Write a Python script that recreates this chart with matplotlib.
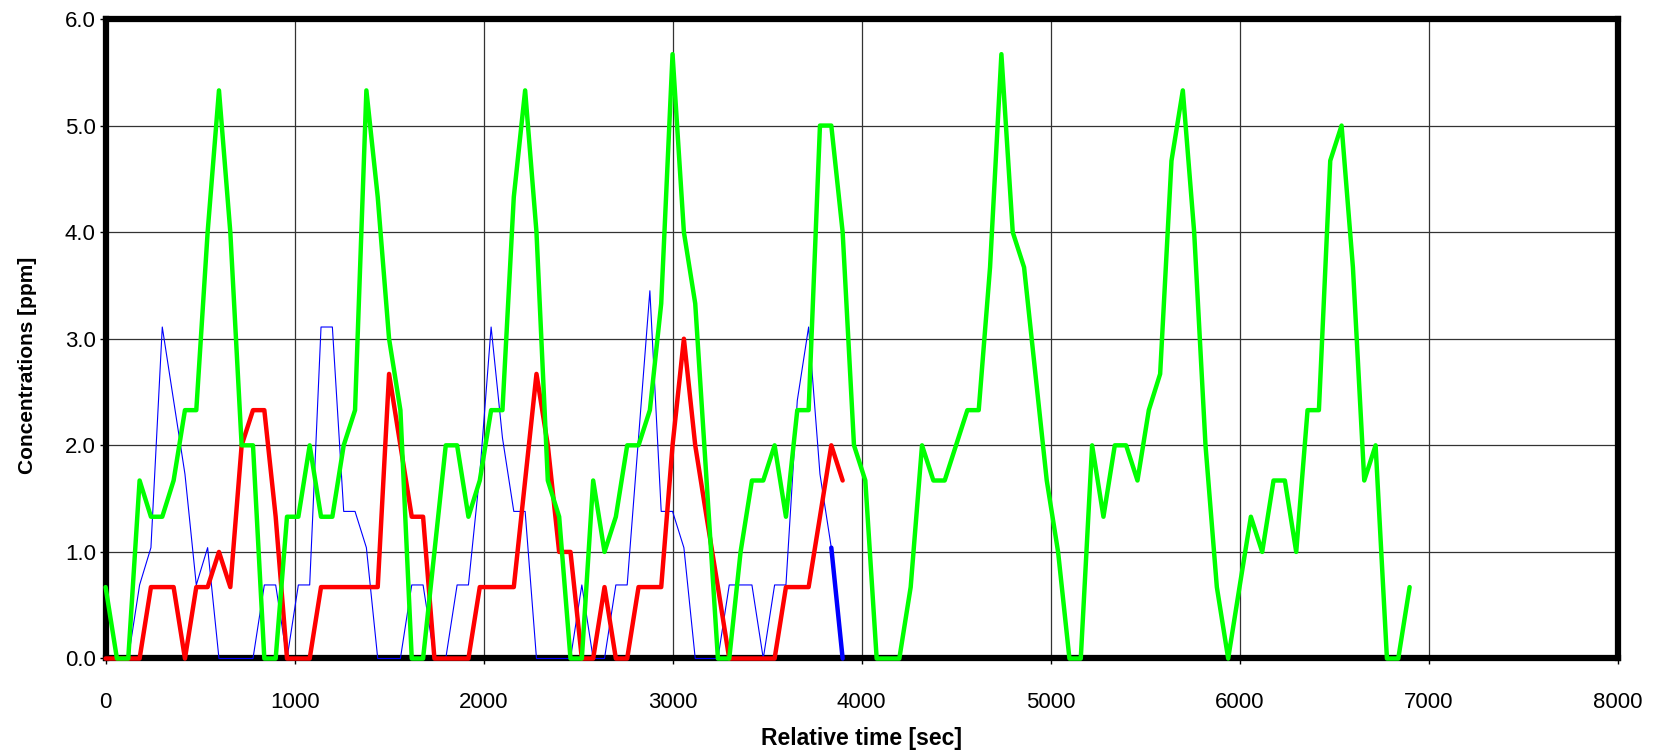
import numpy as np
import matplotlib
matplotlib.use("Agg")
import matplotlib.pyplot as plt

# samples every 60 s
sample_step = 60

green = [0.67, 0, 0, 1.67, 1.33, 1.33, 1.67, 2.33, 2.33, 4.0,
         5.33, 4.0, 2.0, 2.0, 0, 0, 1.33, 1.33, 2.0, 1.33,
         1.33, 2.0, 2.33, 5.33, 4.33, 3.0, 2.33, 0, 0, 1.0,
         2.0, 2.0, 1.33, 1.67, 2.33, 2.33, 4.33, 5.33, 4.0, 1.67,
         1.33, 0, 0, 1.67, 1.0, 1.33, 2.0, 2.0, 2.33, 3.33,
         5.67, 4.0, 3.33, 1.67, 0, 0, 1.0, 1.67, 1.67, 2.0,
         1.33, 2.33, 2.33, 5.0, 5.0, 4.0, 2.0, 1.67, 0, 0,
         0, 0.67, 2.0, 1.67, 1.67, 2.0, 2.33, 2.33, 3.67, 5.67,
         4.0, 3.67, 2.67, 1.67, 1.0, 0, 0, 2.0, 1.33, 2.0,
         2.0, 1.67, 2.33, 2.67, 4.67, 5.33, 4.0, 2.0, 0.67, 0,
         0.67, 1.33, 1.0, 1.67, 1.67, 1.0, 2.33, 2.33, 4.67, 5.0,
         3.67, 1.67, 2.0, 0, 0, 0.67]

red = [0, 0, 0, 0, 0.67, 0.67, 0.67, 0, 0.67, 0.67,
       1.0, 0.67, 2.0, 2.33, 2.33, 1.33, 0, 0, 0, 0.67,
       0.67, 0.67, 0.67, 0.67, 0.67, 2.67, 2.0, 1.33, 1.33, 0,
       0, 0, 0, 0.67, 0.67, 0.67, 0.67, 1.67, 2.67, 2.0,
       1.0, 1.0, 0, 0, 0.67, 0, 0, 0.67, 0.67, 0.67,
       2.0, 3.0, 2.0, 1.33, 0.67, 0, 0, 0, 0, 0,
       0.67, 0.67, 0.67, 1.33, 2.0, 1.67]

blue = [0, 0, 0, 0.69, 1.04, 3.11, 2.42, 1.73, 0.69, 1.04,
        0, 0, 0, 0, 0.69, 0.69, 0, 0.69, 0.69, 3.11,
        3.11, 1.38, 1.38, 1.04, 0, 0, 0, 0.69, 0.69, 0,
        0, 0.69, 0.69, 1.73, 3.11, 2.07, 1.38, 1.38, 0, 0,
        0, 0, 0.69, 0, 0, 0.69, 0.69, 2.07, 3.45, 1.38,
        1.38, 1.04, 0, 0, 0, 0.69, 0.69, 0.69, 0, 0.69,
        0.69, 2.42, 3.11, 1.73, 1.04, 0]

x_ticks = [0, 1000, 2000, 3000, 4000, 5000, 6000, 7000, 8000]
y_ticks = [0.0, 1.0, 2.0, 3.0, 4.0, 5.0, 6.0]

plt.rcParams['font.family'] = ['Liberation Sans', 'DejaVu Sans']

fig = plt.figure(figsize=(16.6, 7.53), dpi=100)
ax = fig.add_axes([0.0636, 0.1255, 0.9108, 0.8493])

t_green = np.arange(len(green)) * sample_step
t_red = np.arange(len(red)) * sample_step
t_blue = np.arange(len(blue)) * sample_step

kw = dict(clip_on=False, solid_joinstyle='round', solid_capstyle='round')
ax.plot(t_blue, blue, color='#0000FF', lw=0.8, zorder=3, **kw)
ax.plot(t_blue[-2:], blue[-2:], color='#0000FF', lw=3.2, zorder=3, **kw)
ax.plot(t_red, red, color='#FF0000', lw=3.2, zorder=4, **kw)
ax.plot(t_green, green, color='#00FF00', lw=3.2, zorder=5, **kw)

ax.set_xlim(0, 8000)
ax.set_ylim(0, 6)
ax.set_xticks(x_ticks)
ax.set_yticks(y_ticks)
ax.set_xticklabels([str(v) for v in x_ticks])
ax.set_yticklabels([f"{v:.1f}" for v in y_ticks])
ax.tick_params(direction='out', length=4, width=1, labelsize=16)
ax.tick_params(axis='x', pad=20)
ax.tick_params(axis='y', pad=3)
ax.grid(True, color='#333333', lw=0.9)
ax.set_axisbelow(True)
for s in ax.spines.values():
    s.set_linewidth(4.5)
    s.set_zorder(2.5)

ax.set_xlabel("Relative time [sec]", fontsize=16.5, fontweight='bold', labelpad=10)
ax.set_ylabel("Concentrations [ppm]", fontsize=15, fontweight='bold')
ax.yaxis.set_label_coords(-0.0453, 0.459)

fig.savefig("out.png", dpi=100)
